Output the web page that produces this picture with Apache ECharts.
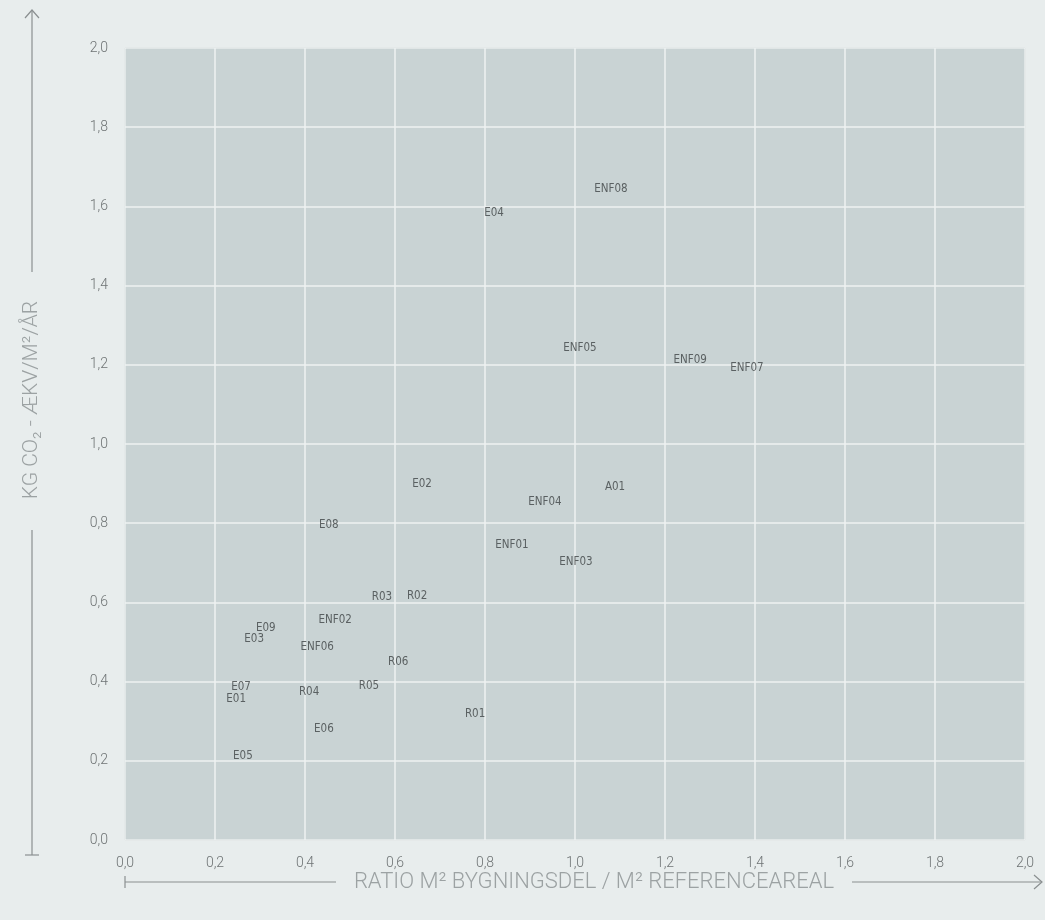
<!DOCTYPE html>
<html><head><meta charset="utf-8">
<script src="https://cdn.jsdelivr.net/npm/echarts@6/dist/echarts.min.js"></script>
<style>html,body{margin:0;padding:0;background:#e8eded;}#c{width:1045px;height:920px;}</style>
</head><body><div id="c"></div>
<script>
const names = ["ENF08","E04","ENF05","ENF09","ENF07","E02","A01","ENF04","E08","ENF01","ENF03","R03","R02","ENF02","E09","E03","ENF06","R06","E07","R05","R04","E01","R01","E06","E05"];
const xVals = [1.080,0.820,1.011,1.256,1.382,0.660,1.089,0.933,0.453,0.860,1.002,0.571,0.649,0.467,0.313,0.287,0.427,0.607,0.258,0.542,0.409,0.247,0.778,0.442,0.262];
const yVals = [1.644,1.583,1.242,1.212,1.192,0.899,0.891,0.854,0.795,0.745,0.702,0.614,0.616,0.556,0.535,0.508,0.487,0.449,0.386,0.389,0.374,0.356,0.318,0.280,0.212];
const xTitle = "RATIO M² BYGNINGSDEL / M² REFERENCEAREAL";
const yTitle = "KG CO₂ - ÆKV/M²/ÅR";

const fmt = v => v.toFixed(1).replace('.', ',');
const data = names.map((n,i)=>[xVals[i], yVals[i], n]);
const chart = echarts.init(document.getElementById('c'));
const lineCol = '#8a8f90';
chart.setOption({
  backgroundColor:'#e8eded',
  animation:false,
  grid:{left:125,right:20,top:48,bottom:80,show:true,backgroundColor:'#c9d3d4',borderColor:'#a9b0b1',borderWidth:1},
  xAxis:{type:'value',min:0,max:2,interval:0.2,
    axisLine:{show:false},axisTick:{show:false},
    splitLine:{lineStyle:{color:'#eef2f2',width:1.5}},
    axisLabel:{formatter:fmt,color:'#6e7374',fontSize:14,margin:16,fontFamily:'Roboto',fontWeight:300}},
  yAxis:{type:'value',min:0,max:2,interval:0.2,
    axisLine:{show:false},axisTick:{show:false},
    splitLine:{lineStyle:{color:'#eef2f2',width:1.5}},
    axisLabel:{formatter:fmt,color:'#6e7374',fontSize:14,margin:17,fontFamily:'Roboto',fontWeight:300}},
  series:[{type:'scatter',data:data,symbolSize:1,itemStyle:{color:'rgba(0,0,0,0)'},
    label:{show:true,position:'inside',formatter:p=>p.data[2],color:'#3e4345',fontSize:11.5,fontFamily:'DejaVu Sans Condensed, Roboto'}}],
  graphic:[
    {type:'line',shape:{x1:32,y1:10,x2:32,y2:272},style:{stroke:lineCol,lineWidth:1.2}},
    {type:'polyline',shape:{points:[[25,18],[32,10],[39,18]]},style:{stroke:lineCol,lineWidth:1.2,fill:null}},
    {type:'line',shape:{x1:32,y1:530,x2:32,y2:855},style:{stroke:lineCol,lineWidth:1.2}},
    {type:'line',shape:{x1:25,y1:855,x2:39,y2:855},style:{stroke:lineCol,lineWidth:1.2}},
    {type:'text',x:32,y:400,rotation:Math.PI/2,style:{text:yTitle,fill:'#9ca2a3',font:'300 21px Roboto',align:'center',verticalAlign:'middle'}},
    {type:'line',shape:{x1:125,y1:882,x2:336,y2:882},style:{stroke:lineCol,lineWidth:1.2}},
    {type:'line',shape:{x1:125,y1:876,x2:125,y2:888},style:{stroke:lineCol,lineWidth:1.2}},
    {type:'line',shape:{x1:852,y1:882,x2:1042,y2:882},style:{stroke:lineCol,lineWidth:1.2}},
    {type:'polyline',shape:{points:[[1034,875],[1042,882],[1034,889]]},style:{stroke:lineCol,lineWidth:1.2,fill:null}},
    {type:'text',x:594,y:882,style:{text:xTitle,fill:'#9ca2a3',font:'300 22px Roboto',align:'center',verticalAlign:'middle'}}
  ]
});
</script></body></html>
